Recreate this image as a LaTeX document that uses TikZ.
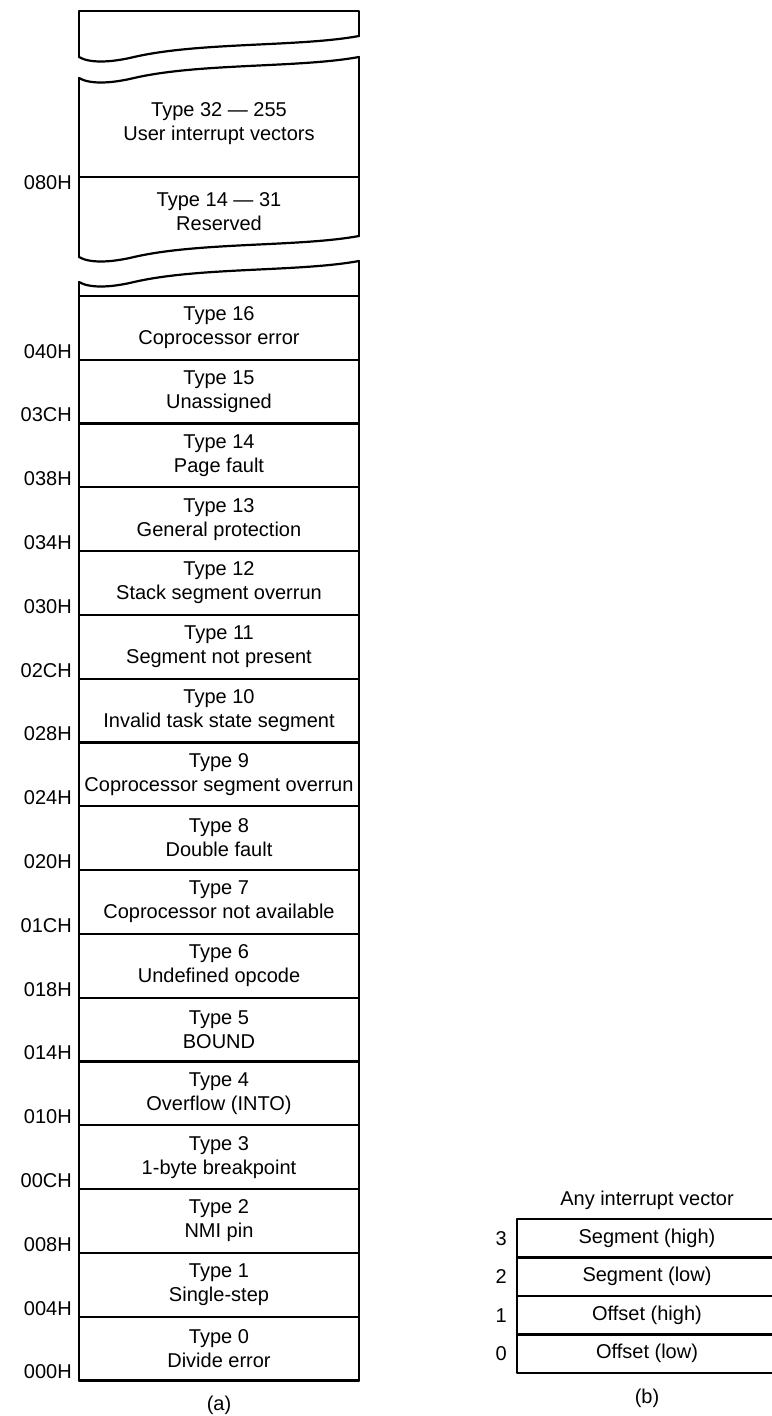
\documentclass[tikz,border=0pt]{standalone}
\usepackage{fontspec}
\setmainfont{Liberation Sans}
\usetikzlibrary{positioning}
\tikzset{
  memline/.style={line width=2.2pt, line join=round, line cap=round},
  cell/.style={font=\fontsize{20}{24}\selectfont, align=center, inner sep=0pt},
  addr/.style={font=\fontsize{20}{24}\selectfont, inner sep=0pt},
  tear/.pic={\draw[memline] (0,0) .. controls (10,6) and (30,6) .. (55,0)
                 .. controls (120,-15) and (220,-10) .. (280,-21);},
}

\begin{document}
\begin{tikzpicture}[x=1pt,y=-1pt]
\useasboundingbox (0,0) rectangle (771,1416);

% (a) torn top part
\draw[memline] (79,57) -- (79,11) -- (359,11) -- (359,36);
\pic at (79,57) {tear};

\draw[memline] (79,78) -- (79,257);
\draw[memline] (359,57) -- (359,236);
\pic at (79,78) {tear};
\pic at (79,257) {tear};
\draw[memline] (79,177) -- (359,177);
\node[cell] (user) at (219,124) {Type 32 — 255\\User interrupt vectors};
\node[cell] (resv) at (219,212) {Type 14 — 31\\Reserved};
\node[addr, anchor=north east] (a080) at (72,175) {080H};

% (a) vector table
\pic at (79,282) {tear};
\draw[memline] (79,282) -- (79,1380.4) -- (359,1380.4) -- (359,261);
\draw[memline] (79,295.8) -- (359,295.8);
\foreach \n/\desc [count=\k from 0] in {16/Coprocessor error, 15/Unassigned,
    14/Page fault, 13/General protection, 12/Stack segment overrun,
    11/Segment not present, 10/Invalid task state segment,
    9/Coprocessor segment overrun, 8/Double fault, 7/Coprocessor not available,
    6/Undefined opcode, 5/BOUND, 4/Overflow (INTO), 3/1-byte breakpoint,
    2/NMI pin, 1/Single-step, 0/Divide error} {
  \draw[memline] (79,{295.8+63.8*(\k+1)}) -- (359,{295.8+63.8*(\k+1)});
  \node[cell] (t\n) at (219,{295.8+63.8*(\k+0.5)}) {Type \n\\\desc};
}
\foreach \a [count=\k] in {040H,03CH,038H,034H,030H,02CH,028H,024H,020H,
    01CH,018H,014H,010H,00CH,008H,004H,000H}
  \node[addr, anchor=base east] (a\a) at (72,{295.8+63.8*\k-1.5}) {\a};
\node[cell] (capa) at (219,1405) {(a)};

% (b) one vector
\node[cell] (vtitle) at (647,1200) {Any interrupt vector};
\draw[memline] (778,1219) -- (517,1219) -- (517,1373) -- (778,1373);
\foreach \b/\txt [count=\k from 0] in {3/Segment (high), 2/Segment (low),
    1/Offset (high), 0/Offset (low)} {
  \node[cell] (b\b) at (647,{1219+38.5*(\k+0.5)}) {\txt};
  \node[addr, anchor=east] (n\b) at (507,{1219+38.5*(\k+0.5)}) {\b};
}
\foreach \k in {1,2,3}
  \draw[memline] (517,{1219+38.5*\k}) -- (778,{1219+38.5*\k});
\node[cell] (capb) at (647,1398) {(b)};
\end{tikzpicture}
\end{document}
